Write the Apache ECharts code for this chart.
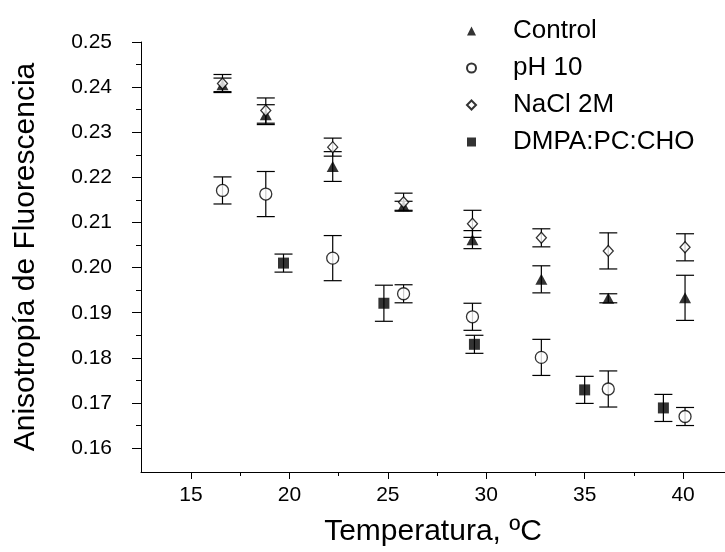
<!DOCTYPE html>
<html>
<head>
<meta charset="utf-8">
<script src="https://cdn.jsdelivr.net/npm/echarts@6/dist/echarts.min.js"></script>
<style>
  html, body { margin: 0; padding: 0; background: #fff; }
  #chart { width: 725px; height: 552px; }
</style>
</head>
<body>
<div id="chart"></div>
<script>
// Temperatures (ºC) at which each sample was measured
const tempMain = [16.6, 18.8, 22.2, 25.8, 29.3, 32.8, 36.2, 40.1];
const tempLipid = [19.7, 24.8, 29.4, 35.0, 39.0];

// Fluorescence anisotropy and its error (± half-height of the bar)
const controlVals = [0.2405, 0.2339, 0.2224, 0.2137, 0.2062, 0.1974, 0.1932, 0.1933];
const controlErr  = [0.0015, 0.0022, 0.0033, 0.0010, 0.0020, 0.0030, 0.0010, 0.0050];
const ph10Vals    = [0.2171, 0.2163, 0.2021, 0.1942, 0.1891, 0.1801, 0.1731, 0.1670];
const ph10Err     = [0.0030, 0.0050, 0.0050, 0.0020, 0.0030, 0.0040, 0.0040, 0.0020];
const naclVals    = [0.2408, 0.2348, 0.2267, 0.2145, 0.2097, 0.2066, 0.2037, 0.2045];
const naclErr     = [0.0020, 0.0028, 0.0020, 0.0020, 0.0030, 0.0020, 0.0040, 0.0030];
const lipidVals   = [0.2010, 0.1921, 0.1830, 0.1729, 0.1689];
const lipidErr    = [0.0020, 0.0040, 0.0020, 0.0030, 0.0030];

const seriesNames = ['Control', 'pH 10', 'NaCl 2M', 'DMPA:PC:CHO'];

// Axis ticks
const xMajorTicks = [15, 20, 25, 30, 35, 40];
const xMinorTicks = [17.5, 22.5, 27.5, 32.5, 37.5];
const yMajorTicks = [0.16, 0.17, 0.18, 0.19, 0.20, 0.21, 0.22, 0.23, 0.24, 0.25];
const yMinorTicks = [0.165, 0.175, 0.185, 0.195, 0.205, 0.215, 0.225, 0.235, 0.245];

const FONT = '"Liberation Sans", Arial, sans-serif';
const X_MIN = 12.46, X_MAX = 42.13;
const Y_MIN = 0.1547, Y_MAX = 0.25;

function zip(xs, ys, es) {
  return xs.map((x, i) => es ? [x, ys[i], es[i]] : [x, ys[i]]);
}

// Vertical error bar with caps
function renderErrorBar(params, api) {
  const x = api.value(0), y = api.value(1), e = api.value(2);
  const top = api.coord([x, y + e]);
  const bot = api.coord([x, y - e]);
  const hw = 9;
  const style = { stroke: '#000', lineWidth: 1.2 };
  return {
    type: 'group',
    children: [
      { type: 'line', shape: { x1: top[0], y1: top[1], x2: bot[0], y2: bot[1] }, style },
      { type: 'line', shape: { x1: top[0] - hw, y1: top[1], x2: top[0] + hw, y2: top[1] }, style },
      { type: 'line', shape: { x1: bot[0] - hw, y1: bot[1], x2: bot[0] + hw, y2: bot[1] }, style }
    ]
  };
}

function errorSeries(xs, ys, es) {
  return {
    type: 'custom',
    renderItem: renderErrorBar,
    data: zip(xs, ys, es),
    encode: { x: 0, y: 1 },
    clip: false,
    z: 1,
    silent: true
  };
}

const hollow = { color: '#fff', borderColor: '#000', borderWidth: 1.3 };
const solid = { color: '#000', borderColor: '#000', borderWidth: 0 };

const chart = echarts.init(document.getElementById('chart'), null, { renderer: 'canvas' });

const axisLineStyle = { color: '#000', width: 1 };

chart.setOption({
  animation: false,
  backgroundColor: '#fff',
  textStyle: { fontFamily: FONT },
  grid: { left: 141, right: 0, top: 42, bottom: 79, containLabel: false },
  legend: {
    orient: 'vertical',
    left: 461,
    top: 13,
    itemWidth: 9,
    itemHeight: 9,
    itemGap: 11,
    selectedMode: false,
    data: seriesNames,
    textStyle: { fontFamily: FONT, fontSize: 26, color: '#000', padding: [0, 0, 0, 32] }
  },
  xAxis: [
    {
      type: 'value', min: X_MIN, max: X_MAX,
      name: 'Temperatura, ºC', nameLocation: 'middle', nameGap: 45,
      nameTextStyle: { fontFamily: FONT, fontSize: 30, color: '#000' },
      axisLine: { show: true, lineStyle: axisLineStyle },
      axisTick: { show: true, inside: false, length: 7, lineStyle: axisLineStyle, customValues: xMajorTicks },
      axisLabel: { show: true, margin: 13, fontFamily: FONT, fontSize: 21, color: '#000', customValues: xMajorTicks },
      splitLine: { show: false }
    },
    {
      type: 'value', min: X_MIN, max: X_MAX, position: 'bottom',
      axisLine: { show: false },
      axisTick: { show: true, inside: false, length: 4, lineStyle: axisLineStyle, customValues: xMinorTicks },
      axisLabel: { show: false },
      splitLine: { show: false }
    }
  ],
  yAxis: [
    {
      type: 'value', min: Y_MIN, max: Y_MAX,
      name: 'Anisotropía de Fluorescencia', nameLocation: 'middle', nameGap: 100,
      nameTextStyle: { fontFamily: FONT, fontSize: 30, color: '#000' },
      axisLine: { show: true, lineStyle: axisLineStyle },
      axisTick: { show: true, inside: false, length: 9, lineStyle: axisLineStyle, customValues: yMajorTicks },
      axisLabel: {
        show: true, margin: 29, fontFamily: FONT, fontSize: 21, color: '#000',
        customValues: yMajorTicks,
        formatter: v => v.toFixed(2)
      },
      splitLine: { show: false }
    },
    {
      type: 'value', min: Y_MIN, max: Y_MAX, position: 'left',
      axisLine: { show: false },
      axisTick: { show: true, inside: false, length: 5, lineStyle: axisLineStyle, customValues: yMinorTicks },
      axisLabel: { show: false },
      splitLine: { show: false }
    }
  ],
  series: [
    errorSeries(tempMain, controlVals, controlErr),
    errorSeries(tempMain, ph10Vals, ph10Err),
    errorSeries(tempMain, naclVals, naclErr),
    errorSeries(tempLipid, lipidVals, lipidErr),
    {
      name: 'Control', type: 'scatter', z: 2,
      symbol: 'triangle', symbolSize: [12, 11],
      itemStyle: solid,
      data: zip(tempMain, controlVals)
    },
    {
      name: 'pH 10', type: 'scatter', z: 2,
      symbol: 'circle', symbolSize: 12,
      itemStyle: hollow,
      data: zip(tempMain, ph10Vals)
    },
    {
      name: 'NaCl 2M', type: 'scatter', z: 2,
      symbol: 'diamond', symbolSize: [10, 11],
      itemStyle: hollow,
      data: zip(tempMain, naclVals)
    },
    {
      name: 'DMPA:PC:CHO', type: 'scatter', z: 2,
      symbol: 'rect', symbolSize: 11,
      itemStyle: solid,
      data: zip(tempLipid, lipidVals)
    }
  ]
});
</script>
</body>
</html>
